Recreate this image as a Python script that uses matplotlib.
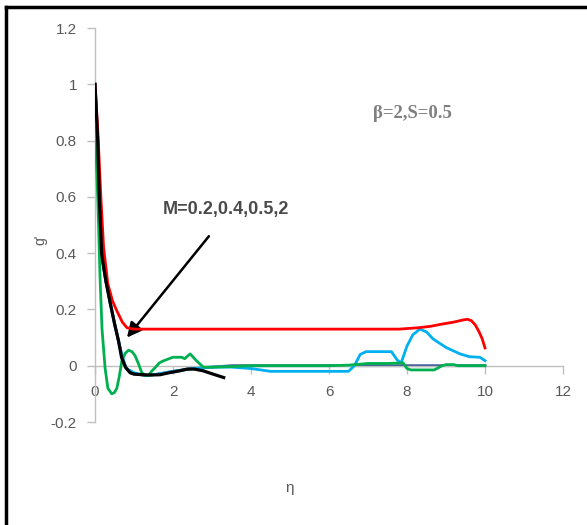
import matplotlib
matplotlib.use("Agg")
import matplotlib.pyplot as plt
from matplotlib.lines import Line2D

# ---- data ----
red_x = [0, 0.07, 0.15, 0.22, 0.33, 0.45, 0.56, 0.7, 0.82, 1.0, 2, 4, 6, 7.8, 8.3, 8.6, 8.9, 9.2, 9.45, 9.55, 9.65, 9.75, 9.85, 9.93, 10.0]
red_y = [1.0, 0.84, 0.6, 0.42, 0.29, 0.23, 0.195, 0.155, 0.135, 0.13, 0.13, 0.13, 0.13, 0.13, 0.135, 0.14, 0.148, 0.155, 0.163, 0.165, 0.16, 0.145, 0.12, 0.095, 0.063]

navy_x = [0, 0.07, 0.11, 0.17, 0.21, 0.28, 0.38, 0.5, 0.6, 0.7, 0.8, 1.0, 1.3, 1.6, 2.0, 2.5, 3.0, 3.5, 5, 7, 10]
navy_y = [1.0, 0.8, 0.6, 0.4, 0.36, 0.3, 0.23, 0.15, 0.09, 0.03, -0.01, -0.028, -0.035, -0.03, -0.02, -0.01, -0.005, 0.0, 0.0, 0.0, 0.0]

cyan_x = [0, 0.07, 0.11, 0.17, 0.21, 0.28, 0.38, 0.5, 0.6, 0.7, 0.8, 1.0, 1.3, 1.6, 2.0, 2.5, 3.0, 3.5, 4.0, 4.5, 5.0, 6.0, 6.5, 6.65, 6.8, 6.95, 7.6, 7.75, 7.85, 8.0, 8.15, 8.33, 8.5, 8.67, 9.0, 9.36, 9.6, 9.87, 10.0]
cyan_y = [1.0, 0.8, 0.6, 0.4, 0.36, 0.3, 0.23, 0.15, 0.09, 0.03, -0.01, -0.025, -0.035, -0.03, -0.02, -0.01, -0.005, -0.005, -0.01, -0.02, -0.02, -0.02, -0.02, 0.0, 0.04, 0.05, 0.05, 0.02, 0.01, 0.07, 0.11, 0.13, 0.12, 0.095, 0.065, 0.042, 0.032, 0.03, 0.018]

green_x = [0, 0.07, 0.13, 0.18, 0.26, 0.33, 0.43, 0.5, 0.56, 0.62, 0.69, 0.78, 0.86, 0.95, 1.03, 1.12, 1.2, 1.3, 1.37, 1.45, 1.54, 1.65, 1.75, 1.9, 2.0, 2.22, 2.3, 2.38, 2.44, 2.52, 2.6, 2.7, 2.78, 3.0, 3.5, 4, 5, 6, 6.5, 7.0, 7.5, 7.9, 8.0, 8.1, 8.5, 8.7, 8.9, 9.0, 9.2, 9.3, 10.0]
green_y = [0.85, 0.6, 0.31, 0.13, -0.01, -0.08, -0.1, -0.095, -0.08, -0.04, 0.018, 0.045, 0.055, 0.05, 0.035, 0.005, -0.025, -0.035, -0.035, -0.02, -0.007, 0.01, 0.017, 0.025, 0.03, 0.03, 0.025, 0.035, 0.042, 0.03, 0.018, 0.005, -0.005, -0.005, -0.003, 0.0, 0.0, 0.0, 0.002, 0.008, 0.008, 0.01, -0.01, -0.015, -0.015, -0.015, 0.0, 0.004, 0.004, 0.0, 0.0]

black_x = [0, 0.07, 0.11, 0.17, 0.21, 0.28, 0.38, 0.5, 0.6, 0.68, 0.78, 0.9, 1.0, 1.23, 1.45, 1.67, 1.9, 2.18, 2.36, 2.55, 2.77, 3.03, 3.3]
black_y = [1.0, 0.8, 0.6, 0.4, 0.36, 0.3, 0.23, 0.15, 0.09, 0.03, -0.005, -0.025, -0.03, -0.032, -0.033, -0.032, -0.025, -0.018, -0.012, -0.012, -0.018, -0.03, -0.042]

x_ticks = [0, 2, 4, 6, 8, 10, 12]
y_ticks = [-0.2, 0, 0.2, 0.4, 0.6, 0.8, 1, 1.2]
y_ticklabels = ["-0.2", "0", "0.2", "0.4", "0.6", "0.8", "1", "1.2"]

plt.rcParams['font.family'] = ['Liberation Sans', 'DejaVu Sans']

fig = plt.figure(figsize=(5.87, 5.25), dpi=100)
ax = fig.add_axes([95/587, 1-422/525, (563-95)/587, (422-28)/525])

ax.plot(navy_x, navy_y, color='#2F4F8F', lw=2.0, zorder=2)
ax.plot(cyan_x, cyan_y, color='#00B0F0', lw=2.0, zorder=3)
ax.plot(red_x, red_y, color='#FF0000', lw=2.0, zorder=4)
ax.plot(green_x, green_y, color='#00B050', lw=2.0, zorder=5)
ax.plot(black_x, black_y, color='black', lw=2.3, zorder=6)

ax.set_xlim(0, 12)
ax.set_ylim(-0.2, 1.2)
for s in ['top', 'right']:
    ax.spines[s].set_visible(False)
ax.spines['left'].set_position(('data', 0))
ax.spines['bottom'].set_position(('data', 0))
for s in ['left', 'bottom']:
    ax.spines[s].set_color('#BFBFBF')
    ax.spines[s].set_linewidth(1.0)

ax.set_xticks(x_ticks)
ax.set_xticklabels([str(t) for t in x_ticks])
ax.set_yticks(y_ticks)
ax.set_yticklabels(y_ticklabels)
ax.tick_params(axis='both', colors='#BFBFBF', labelcolor='#595959', labelsize=11, length=6, width=1.0, direction='out')
ax.tick_params(axis='x', pad=8)
ax.tick_params(axis='y', pad=7)

ax.annotate('', xy=(0.82, 0.10), xytext=(2.92, 0.46),
            arrowprops=dict(arrowstyle='-|>', color='black', lw=1.8, mutation_scale=22, shrinkA=0, shrinkB=0))
ax.text(3.36, 0.556, 'M=0.2,0.4,0.5,2', fontsize=13, fontweight='bold', color='#4A4A4A', ha='center', va='center')
ax.text(8.13, 0.896, 'β=2,S=0.5', fontsize=13.5, fontweight='bold', color='#808080', ha='center', va='center',
        family=['Liberation Serif', 'DejaVu Serif'])

fig.text(40/587, 1-240/525, "g'", rotation=90, fontsize=10, color='#595959', ha='center', va='center')
fig.text(290/587, 1-488/525, 'η', fontsize=11, color='#595959', ha='center', va='center')

# frame lines (top and left) as in the cropped reference
fig.add_artist(Line2D([6/587, 6/587], [0, 1-7/525], transform=fig.transFigure, color='black', lw=2.5))
fig.add_artist(Line2D([6/587, 1], [1-7/525, 1-7/525], transform=fig.transFigure, color='black', lw=2.5))

fig.savefig('out.png', dpi=100)
